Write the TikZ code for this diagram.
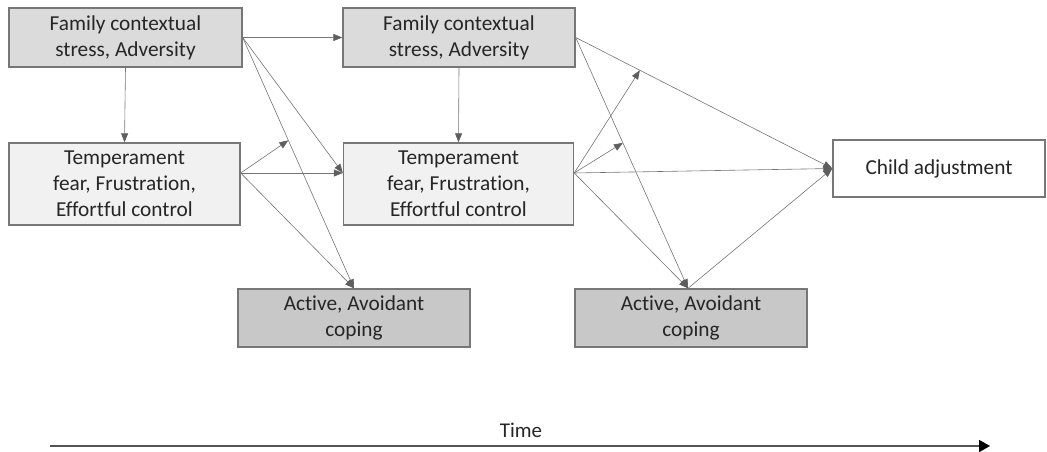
\documentclass[tikz,border=0pt]{standalone}
\usepackage{fontspec}
\setmainfont{Carlito}[Ligatures=NoCommon]
\usetikzlibrary{arrows.meta,calc}
\definecolor{famfill}{HTML}{DBDBDB}
\definecolor{tempfill}{HTML}{F1F1F1}
\definecolor{copefill}{HTML}{C8C8C8}
\definecolor{boxline}{HTML}{777777}
\definecolor{txt}{HTML}{262626}
\definecolor{linkgray}{HTML}{747474}
\definecolor{headgray}{HTML}{5E5E5E}
\definecolor{timegray}{HTML}{555555}
\begin{document}
\begin{tikzpicture}[x=1pt,y=-1pt,
  box/.style={draw=boxline, line width=1.4pt, inner sep=0pt, align=center,
    text=txt, font=\fontsize{21.3}{25.8}\selectfont},
  fambox/.style={box, fill=famfill, minimum height=59pt},
  tempbox/.style={box, fill=tempfill, minimum height=82pt},
  copebox/.style={box, fill=copefill, minimum width=232pt, minimum height=58pt},
  outbox/.style={box, fill=white, minimum width=212pt, minimum height=57pt},
  link/.style={draw=linkgray, line width=0.6pt,
    -{Triangle[length=9pt,width=7pt,fill=headgray,color=headgray]}},
  timeline/.style={draw=timegray, line width=1.8pt,
    -{Triangle[length=11pt,width=12pt,fill=black,color=black]}}]
\useasboundingbox (0,0) rectangle (1047,452);

% first wave
\node[fambox, minimum width=233pt] (A1) at (125.5,37.5) {Family contextual\\stress, Adversity};
\node[tempbox, minimum width=231pt] (T1) at (124.5,184) {Temperament\\fear, Frustration,\\Effortful control};
\node[copebox] (C1) at (354,318) {Active, Avoidant\\coping};

% second wave
\node[fambox, minimum width=232pt] (A2) at (459,37.5) {Family contextual\\stress, Adversity};
\node[tempbox, minimum width=230pt] (T2) at (458.5,184) {Temperament\\fear, Frustration,\\Effortful control};
\node[copebox] (C2) at (691,318) {Active, Avoidant\\coping};

% outcome
\node[outbox] (Y) at (939,168.5) {Child adjustment};

% ports
\coordinate (T1out) at ([yshift=11pt]T1.east);
\coordinate (T2in) at ([yshift=11pt]T2.west);
\coordinate (T2out) at ([yshift=11pt]T2.east);
\coordinate (C1in) at (C1.north);
\coordinate (C2in) at ([xshift=-3pt]C2.north);
\coordinate (Yin) at (Y.west);

% paths from the first wave
\draw[link] (A1.east) -- (A2.west);
\draw[link] (A1.south) -- (T1.north);
\draw[link] (A1.east) -- (T2in);
\draw[link] (A1.east) -- (C1in);
\draw[link] (T1out) -- (T2in);
\draw[link] (T1out) -- (C1in);
\coordinate (M1) at ($(A1.east)!0.41!(C1in)$);
\draw[link] (T1out) -- (M1);

% paths from the second wave
\draw[link] (A2.south) -- (T2.north);
\draw[link] (A2.east) -- (Yin);
\draw[link] (A2.east) -- (C2in);
\draw[link] (T2out) -- (Yin);
\draw[link] (T2out) -- (C2in);
\draw[link] (C2in) -- (Yin);
\coordinate (M2) at ($(A2.east)!0.42!(C2in)$);
\coordinate (M3) at ($(A2.east)!0.25!(Yin)$);
\draw[link] (T2out) -- (M2);
\draw[link] (T2out) -- (M3);

% time axis
\coordinate (t0) at (50,446);
\coordinate (t1) at (990,446);
\draw[timeline] (t0) -- (t1);
\node[anchor=base, text=txt, font=\fontsize{21}{24}\selectfont] (timelbl) at (521,437) {Time};
\end{tikzpicture}
\end{document}
